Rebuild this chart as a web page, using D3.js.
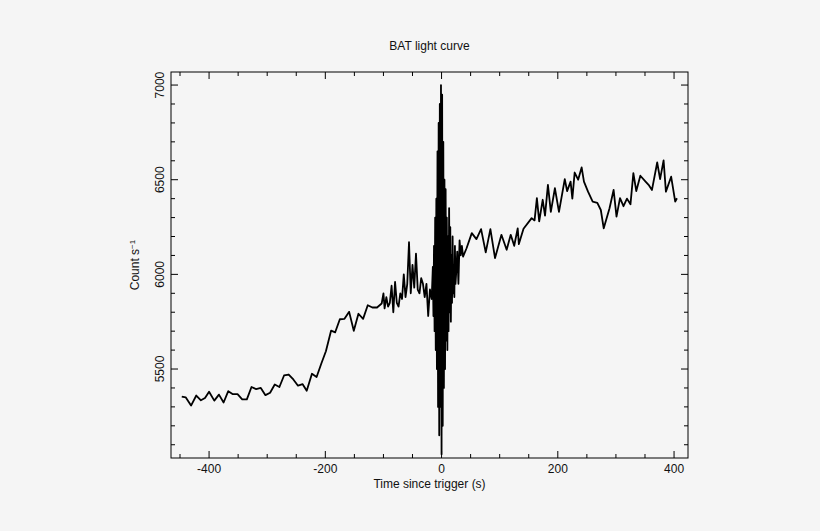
<!DOCTYPE html>
<html><head><meta charset="utf-8">
<script src="https://cdn.jsdelivr.net/npm/d3@7"></script>
<style>body{margin:0;background:#f5f5f5;}svg{display:block;}</style>
</head><body><svg id="c" width="820" height="531"></svg>
<script>
const times = [-447,-440,-431,-422,-414,-407,-400,-391,-383,-375,-367,-359,-351,-343,-335,-327,-319,-311,-303,-295,-287,-279,-271,-263,-255,-247,-239,-232,-223,-215,-207,-199,-190,-183,-175,-167,-159,-151,-143,-135,-127,-119,-111,-103,
-100,-98,-95,-92,-89,-86,-83,-80,-77,-74,-71,-68,-65,-62,-59,-56,-53,-50,-47,-44,-41,-38,-35,-32,-29,-26,-23,-20,-17,
-15,-14,-13,-12,-11,-10,-9,-8,-7,-6,-5,-4,-3,-2,-1,0,1,2,3,4,5,6,7,8,9,10,11,12,13,14,15,16,17,18,19,20,21,22,23,24,25,27,29,31,33,35,
37,43,52,60,68,76,84,92,103,112,119,125,131,133,141,155,160,164,168,174,178,183,188,195,202,212,216,222,225,229,235,241,245,252,260,268,274,279,289,296,301,307,313,319,325,330,335,342,351,357,362,371,376,382,386,395,402,405];
const counts = [5354,5350,5307,5360,5335,5347,5380,5333,5365,5323,5383,5367,5367,5340,5340,5405,5394,5400,5362,5375,5418,5405,5466,5471,5445,5412,5420,5385,5475,5458,5528,5594,5703,5694,5763,5765,5802,5702,5792,5765,5837,5825,5825,5846,
5900,5820,5880,5830,5850,5940,5800,5960,5850,5830,5900,5870,6000,5880,5950,6170,5900,6050,5930,6110,5920,5900,5980,5950,5880,5950,5780,5920,5870,
6040,5780,6150,5700,6300,5600,6400,5500,6650,5300,6800,5150,6900,5300,7000,5050,6950,5200,6700,5400,6500,5500,6450,5650,6300,5600,6200,5700,6350,5800,6250,5750,6100,5850,6200,5900,6050,5880,6150,5950,6000,6120,5950,6180,6100,6150,
6094,6138,6218,6186,6239,6116,6239,6086,6209,6130,6209,6151,6243,6160,6241,6297,6285,6403,6280,6394,6310,6473,6330,6455,6330,6503,6440,6490,6400,6538,6500,6565,6490,6437,6384,6378,6340,6243,6349,6446,6305,6403,6360,6400,6370,6535,6440,6521,6490,6470,6446,6591,6503,6602,6437,6516,6384,6402,6296];
const xTicks = [-400,-200,0,200,400];
const yTicks = [5500,6000,6500,7000];

const svg = d3.select("#c");
const L=171,R=688,T=72,B=458;
const x = d3.scaleLinear().domain([-465.5,424]).range([L,R]);
const y = d3.scaleLinear().domain([5030,7069]).range([B,T]);
svg.append("rect").attr("width",820).attr("height",531).attr("fill","#f5f5f5");
const g = svg.append("g").attr("font-family","Liberation Sans, Arial, sans-serif").attr("font-size",12).attr("fill","#111");
// minor and major ticks, inward on all four sides
const tk = (v,len,axis)=>{
  if(axis==="x"){
    g.append("line").attr("x1",x(v)).attr("x2",x(v)).attr("y1",B).attr("y2",B-len).attr("stroke","#000");
    g.append("line").attr("x1",x(v)).attr("x2",x(v)).attr("y1",T).attr("y2",T+len).attr("stroke","#000");
  } else {
    g.append("line").attr("y1",y(v)).attr("y2",y(v)).attr("x1",L).attr("x2",L+len).attr("stroke","#000");
    g.append("line").attr("y1",y(v)).attr("y2",y(v)).attr("x1",R).attr("x2",R-len).attr("stroke","#000");
  }
};
for(let v=-450; v<=420; v+=50) tk(v, xTicks.includes(v)?7:4, "x");
for(let v=5100; v<=7050; v+=100) tk(v, yTicks.includes(v)?7:4, "y");
g.append("rect").attr("x",L).attr("y",T).attr("width",R-L).attr("height",B-T).attr("fill","none").attr("stroke","#000").attr("stroke-width",1);
xTicks.forEach(v=>g.append("text").attr("x",x(v)).attr("y",B+15).attr("text-anchor","middle").text(v));
yTicks.forEach(v=>g.append("text").attr("transform",`translate(${L-7},${y(v)}) rotate(-90)`).attr("text-anchor","middle").text(v));
g.append("text").attr("x",(L+R)/2).attr("y",488).attr("text-anchor","middle").text("Time since trigger (s)");
const yl = g.append("text").attr("transform",`translate(139,${(T+B)/2}) rotate(-90)`).attr("text-anchor","middle").text("Count s");
yl.append("tspan").attr("dy",-4).attr("font-size",8).text("−1");
g.append("text").attr("x",(L+R)/2).attr("y",50).attr("text-anchor","middle").text("BAT light curve");
const data = times.map((t,i)=>[t,counts[i]]);
svg.append("path").datum(data).attr("fill","none").attr("stroke","#000").attr("stroke-width",1.8).attr("stroke-linejoin","round")
 .attr("d",d3.line().x(d=>x(d[0])).y(d=>y(d[1])));
</script></body></html>
